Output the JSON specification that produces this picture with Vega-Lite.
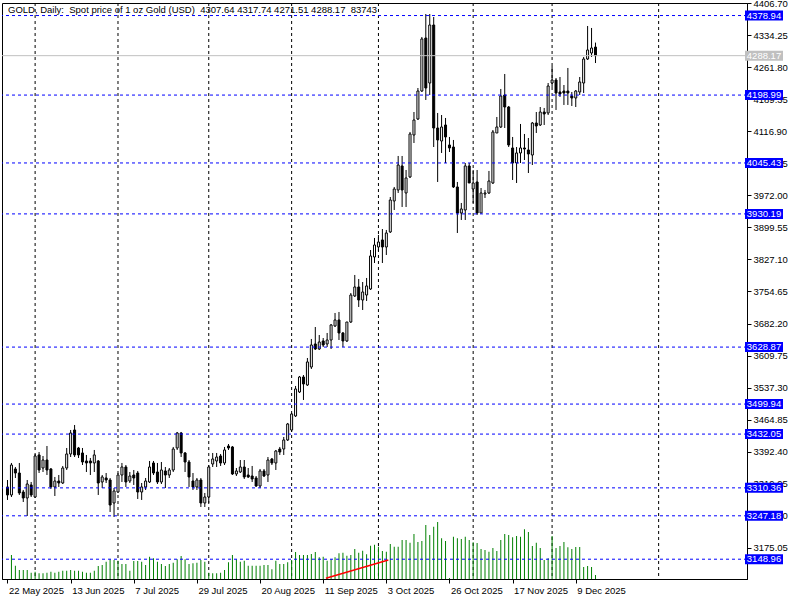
{
"$schema": "https://vega.github.io/schema/vega-lite/v6.json",
"width": 745, "height": 576,
"autosize": {"type": "none"},
"padding": {"left": 2, "top": 3, "right": 53, "bottom": 21},
"background": "#ffffff",
"config": {"view": {"stroke": "#000000", "strokeWidth": 1}, "font": "Liberation Sans"},
"datasets": {
"bars": [
{"d":"2025-05-22","i":-1,"o":3312.4,"h":3328.2,"l":3283.0,"c":3294.3},
{"d":"2025-05-23","i":0,"o":3294.3,"h":3366.7,"l":3289.7,"c":3362.1,"v":502464},
{"d":"2025-05-26","i":1,"o":3353.1,"h":3357.6,"l":3332.7,"c":3344.0,"v":278449},
{"d":"2025-05-27","i":2,"o":3344.0,"h":3366.7,"l":3294.3,"c":3298.8,"v":188424},
{"d":"2025-05-28","i":3,"o":3301.0,"h":3305.6,"l":3278.4,"c":3287.5,"v":188424},
{"d":"2025-05-29","i":4,"o":3287.5,"h":3328.2,"l":3246.8,"c":3319.1,"v":188424},
{"d":"2025-05-30","i":5,"o":3316.9,"h":3323.7,"l":3289.7,"c":3294.3,"v":131897},
{"d":"2025-06-02","i":6,"o":3289.7,"h":3387.0,"l":3287.5,"c":3382.5,"v":152833},
{"d":"2025-06-03","i":7,"o":3384.8,"h":3391.5,"l":3344.0,"c":3350.8,"v":119335},
{"d":"2025-06-04","i":8,"o":3355.3,"h":3382.5,"l":3346.3,"c":3373.4,"v":119335},
{"d":"2025-06-05","i":9,"o":3373.4,"h":3405.1,"l":3339.5,"c":3350.8,"v":131897},
{"d":"2025-06-06","i":10,"o":3353.1,"h":3355.3,"l":3307.8,"c":3312.4,"v":152833},
{"d":"2025-06-09","i":11,"o":3312.4,"h":3335.0,"l":3292.0,"c":3325.9,"v":131897},
{"d":"2025-06-10","i":12,"o":3325.9,"h":3339.5,"l":3312.4,"c":3321.4,"v":152833},
{"d":"2025-06-11","i":13,"o":3321.4,"h":3359.9,"l":3319.1,"c":3355.3,"v":173769},
{"d":"2025-06-12","i":14,"o":3355.3,"h":3400.6,"l":3350.8,"c":3387.0,"v":173769},
{"d":"2025-06-13","i":15,"o":3387.0,"h":3441.3,"l":3380.2,"c":3434.5,"v":188424},
{"d":"2025-06-16","i":16,"o":3441.3,"h":3452.6,"l":3380.2,"c":3384.8,"v":173769},
{"d":"2025-06-17","i":17,"o":3400.6,"h":3402.9,"l":3378.0,"c":3384.8,"v":173769},
{"d":"2025-06-18","i":18,"o":3389.3,"h":3400.6,"l":3362.1,"c":3368.9,"v":152833},
{"d":"2025-06-19","i":19,"o":3371.2,"h":3384.8,"l":3346.3,"c":3366.7,"v":131897},
{"d":"2025-06-20","i":20,"o":3371.2,"h":3378.0,"l":3339.5,"c":3366.7,"v":131897},
{"d":"2025-06-23","i":21,"o":3366.7,"h":3396.1,"l":3346.3,"c":3384.8,"v":173769},
{"d":"2025-06-24","i":22,"o":3371.2,"h":3373.4,"l":3294.3,"c":3321.4,"v":272168},
{"d":"2025-06-25","i":23,"o":3323.7,"h":3339.5,"l":3310.1,"c":3335.0,"v":293104},
{"d":"2025-06-26","i":24,"o":3332.7,"h":3344.0,"l":3321.4,"c":3328.2,"v":362193},
{"d":"2025-06-27","i":25,"o":3328.2,"h":3332.7,"l":3255.8,"c":3271.6,"v":412439},
{"d":"2025-06-30","i":26,"o":3276.2,"h":3310.1,"l":3244.5,"c":3303.3,"v":397784},
{"d":"2025-07-01","i":27,"o":3301.0,"h":3344.0,"l":3298.8,"c":3339.5,"v":383129},
{"d":"2025-07-02","i":28,"o":3339.5,"h":3366.7,"l":3323.7,"c":3357.6,"v":314040},
{"d":"2025-07-03","i":29,"o":3357.6,"h":3362.1,"l":3312.4,"c":3323.7,"v":314040},
{"d":"2025-07-04","i":30,"o":3325.9,"h":3346.3,"l":3321.4,"c":3337.2,"v":173769},
{"d":"2025-07-07","i":31,"o":3339.5,"h":3350.8,"l":3316.9,"c":3332.7,"v":376848},
{"d":"2025-07-08","i":32,"o":3344.0,"h":3348.6,"l":3285.2,"c":3301.0,"v":376848},
{"d":"2025-07-09","i":33,"o":3301.0,"h":3321.4,"l":3283.0,"c":3312.4,"v":362193},
{"d":"2025-07-10","i":34,"o":3312.4,"h":3332.7,"l":3305.6,"c":3325.9,"v":293104},
{"d":"2025-07-11","i":35,"o":3323.7,"h":3371.2,"l":3321.4,"c":3357.6,"v":466873},
{"d":"2025-07-14","i":36,"o":3366.7,"h":3371.2,"l":3339.5,"c":3344.0,"v":433375},
{"d":"2025-07-15","i":37,"o":3346.3,"h":3366.7,"l":3319.1,"c":3323.7,"v":362193},
{"d":"2025-07-16","i":38,"o":3323.7,"h":3368.9,"l":3319.1,"c":3350.8,"v":314040},
{"d":"2025-07-17","i":39,"o":3348.6,"h":3357.6,"l":3310.1,"c":3339.5,"v":272168},
{"d":"2025-07-18","i":40,"o":3339.5,"h":3355.3,"l":3332.7,"c":3350.8,"v":314040},
{"d":"2025-07-21","i":41,"o":3350.8,"h":3402.9,"l":3346.3,"c":3398.3,"v":341257},
{"d":"2025-07-22","i":42,"o":3400.6,"h":3436.8,"l":3396.1,"c":3434.5,"v":412439},
{"d":"2025-07-23","i":43,"o":3434.5,"h":3436.8,"l":3380.2,"c":3389.3,"v":481528},
{"d":"2025-07-24","i":44,"o":3389.3,"h":3391.5,"l":3346.3,"c":3368.9,"v":412439},
{"d":"2025-07-25","i":45,"o":3368.9,"h":3373.4,"l":3312.4,"c":3335.0,"v":314040},
{"d":"2025-07-28","i":46,"o":3325.9,"h":3344.0,"l":3305.6,"c":3312.4,"v":328695},
{"d":"2025-07-29","i":47,"o":3312.4,"h":3332.7,"l":3305.6,"c":3328.2,"v":341257},
{"d":"2025-07-30","i":48,"o":3328.2,"h":3332.7,"l":3267.1,"c":3276.2,"v":397784},
{"d":"2025-07-31","i":49,"o":3276.2,"h":3298.8,"l":3267.1,"c":3289.7,"v":362193},
{"d":"2025-08-01","i":50,"o":3289.7,"h":3362.1,"l":3276.2,"c":3357.6,"v":131897},
{"d":"2025-08-04","i":51,"o":3364.4,"h":3389.3,"l":3357.6,"c":3375.7,"v":119335},
{"d":"2025-08-05","i":52,"o":3371.2,"h":3389.3,"l":3357.6,"c":3380.2,"v":119335},
{"d":"2025-08-06","i":53,"o":3382.5,"h":3387.0,"l":3359.9,"c":3366.7,"v":131897},
{"d":"2025-08-07","i":54,"o":3366.7,"h":3402.9,"l":3362.1,"c":3396.1,"v":188424},
{"d":"2025-08-08","i":55,"o":3405.1,"h":3409.6,"l":3396.1,"c":3400.6,"v":349631},
{"d":"2025-08-11","i":56,"o":3402.9,"h":3405.1,"l":3339.5,"c":3341.8,"v":502464},
{"d":"2025-08-12","i":57,"o":3341.8,"h":3355.3,"l":3337.2,"c":3348.6,"v":412439},
{"d":"2025-08-13","i":58,"o":3346.3,"h":3373.4,"l":3344.0,"c":3357.6,"v":362193},
{"d":"2025-08-14","i":59,"o":3357.6,"h":3373.4,"l":3330.5,"c":3335.0,"v":383129},
{"d":"2025-08-15","i":60,"o":3339.5,"h":3355.3,"l":3332.7,"c":3335.0,"v":278449},
{"d":"2025-08-18","i":61,"o":3337.2,"h":3359.9,"l":3323.7,"c":3330.5,"v":278449},
{"d":"2025-08-19","i":62,"o":3332.7,"h":3337.2,"l":3312.4,"c":3314.6,"v":278449},
{"d":"2025-08-20","i":63,"o":3314.6,"h":3353.1,"l":3310.1,"c":3348.6,"v":278449},
{"d":"2025-08-21","i":64,"o":3348.6,"h":3353.1,"l":3335.0,"c":3337.2,"v":293104},
{"d":"2025-08-22","i":65,"o":3339.5,"h":3380.2,"l":3323.7,"c":3373.4,"v":293104},
{"d":"2025-08-25","i":66,"o":3375.7,"h":3378.0,"l":3362.1,"c":3366.7,"v":203079},
{"d":"2025-08-26","i":67,"o":3366.7,"h":3396.1,"l":3350.8,"c":3393.8,"v":383129},
{"d":"2025-08-27","i":68,"o":3398.3,"h":3402.9,"l":3384.8,"c":3391.5,"v":314040},
{"d":"2025-08-28","i":69,"o":3398.3,"h":3425.5,"l":3384.8,"c":3418.7,"v":314040},
{"d":"2025-08-29","i":70,"o":3418.7,"h":3457.2,"l":3416.4,"c":3454.9,"v":349631},
{"d":"2025-09-01","i":71,"o":3441.3,"h":3479.8,"l":3436.8,"c":3477.5,"v":397784},
{"d":"2025-09-02","i":72,"o":3473.0,"h":3540.9,"l":3470.7,"c":3534.1,"v":565272},
{"d":"2025-09-03","i":73,"o":3527.3,"h":3563.5,"l":3525.0,"c":3561.2,"v":502464},
{"d":"2025-09-04","i":74,"o":3561.2,"h":3565.7,"l":3509.2,"c":3545.4,"v":502464},
{"d":"2025-09-05","i":75,"o":3543.1,"h":3604.2,"l":3540.9,"c":3595.2,"v":502464},
{"d":"2025-09-08","i":76,"o":3583.8,"h":3647.2,"l":3579.3,"c":3633.6,"v":523400},
{"d":"2025-09-09","i":77,"o":3635.9,"h":3674.3,"l":3622.3,"c":3624.6,"v":565272},
{"d":"2025-09-10","i":78,"o":3624.6,"h":3656.2,"l":3622.3,"c":3640.4,"v":454311},
{"d":"2025-09-11","i":79,"o":3642.7,"h":3649.4,"l":3629.1,"c":3633.6,"v":466873},
{"d":"2025-09-12","i":80,"o":3635.9,"h":3660.8,"l":3629.1,"c":3644.9,"v":383129},
{"d":"2025-09-15","i":81,"o":3644.9,"h":3681.1,"l":3624.6,"c":3678.9,"v":412439},
{"d":"2025-09-16","i":82,"o":3676.6,"h":3706.0,"l":3674.3,"c":3690.2,"v":454311},
{"d":"2025-09-17","i":83,"o":3690.2,"h":3708.3,"l":3644.9,"c":3660.8,"v":538055},
{"d":"2025-09-18","i":84,"o":3660.8,"h":3663.0,"l":3629.1,"c":3642.7,"v":550617},
{"d":"2025-09-19","i":85,"o":3642.7,"h":3685.6,"l":3640.4,"c":3685.6,"v":487809},
{"d":"2025-09-22","i":86,"o":3685.6,"h":3751.2,"l":3683.4,"c":3746.7,"v":502464},
{"d":"2025-09-23","i":87,"o":3744.5,"h":3792.0,"l":3742.2,"c":3764.8,"v":628080},
{"d":"2025-09-24","i":88,"o":3764.8,"h":3782.9,"l":3719.6,"c":3735.4,"v":550617},
{"d":"2025-09-25","i":89,"o":3735.4,"h":3776.1,"l":3712.8,"c":3753.5,"v":592489},
{"d":"2025-09-26","i":90,"o":3746.7,"h":3785.2,"l":3733.2,"c":3767.1,"v":517119},
{"d":"2025-09-29","i":91,"o":3760.3,"h":3848.5,"l":3758.0,"c":3835.0,"v":697169},
{"d":"2025-09-30","i":92,"o":3832.7,"h":3875.7,"l":3819.1,"c":3859.8,"v":718105},
{"d":"2025-10-01","i":93,"o":3855.3,"h":3882.5,"l":3846.3,"c":3866.6,"v":676233},
{"d":"2025-10-02","i":94,"o":3871.2,"h":3896.0,"l":3819.1,"c":3855.3,"v":586208},
{"d":"2025-10-03","i":95,"o":3855.3,"h":3893.8,"l":3837.2,"c":3887.0,"v":571553},
{"d":"2025-10-06","i":96,"o":3889.3,"h":3968.4,"l":3887.0,"c":3961.6,"v":732760},
{"d":"2025-10-07","i":97,"o":3959.4,"h":3991.1,"l":3939.0,"c":3986.5,"v":676233},
{"d":"2025-10-08","i":98,"o":3984.3,"h":4061.2,"l":3977.5,"c":4040.8,"v":676233},
{"d":"2025-10-09","i":99,"o":4038.6,"h":4061.2,"l":3945.8,"c":3984.3,"v":816504},
{"d":"2025-10-10","i":100,"o":3977.5,"h":4029.5,"l":3945.8,"c":4011.4,"v":816504},
{"d":"2025-10-13","i":101,"o":4013.7,"h":4115.5,"l":4011.4,"c":4111.0,"v":759977},
{"d":"2025-10-14","i":102,"o":4108.7,"h":4160.7,"l":4090.6,"c":4142.6,"v":942120},
{"d":"2025-10-15","i":103,"o":4144.9,"h":4215.0,"l":4142.6,"c":4208.2,"v":774632},
{"d":"2025-10-16","i":104,"o":4208.2,"h":4330.4,"l":4206.0,"c":4325.9,"v":795568},
{"d":"2025-10-17","i":105,"o":4328.1,"h":4382.4,"l":4187.9,"c":4215.0,"v":1130544},
{"d":"2025-10-20","i":106,"o":4226.3,"h":4382.4,"l":4199.2,"c":4357.5,"v":921184},
{"d":"2025-10-21","i":107,"o":4357.5,"h":4375.6,"l":4081.5,"c":4124.5,"v":1094953},
{"d":"2025-10-22","i":108,"o":4124.5,"h":4158.5,"l":4002.4,"c":4097.4,"v":1193352},
{"d":"2025-10-23","i":109,"o":4095.1,"h":4153.9,"l":4068.0,"c":4126.8,"v":852095},
{"d":"2025-10-24","i":110,"o":4131.3,"h":4147.2,"l":4045.3,"c":4104.2,"v":795568},
{"d":"2025-10-26","i":111,"o":4086.1,"h":4104.2,"l":4070.2,"c":4079.3,"v":20936},
{"d":"2025-10-27","i":112,"o":4081.5,"h":4097.4,"l":3988.8,"c":3991.1,"v":885593},
{"d":"2025-10-28","i":113,"o":3991.1,"h":4002.4,"l":3887.0,"c":3932.2,"v":852095},
{"d":"2025-10-29","i":114,"o":3932.2,"h":3954.9,"l":3916.4,"c":3941.3,"v":837440},
{"d":"2025-10-30","i":115,"o":3939.0,"h":4045.3,"l":3916.4,"c":4038.6,"v":885593},
{"d":"2025-10-31","i":116,"o":4038.6,"h":4045.3,"l":4000.1,"c":4000.1,"v":816504},
{"d":"2025-11-03","i":117,"o":3986.5,"h":4029.5,"l":3954.9,"c":4000.1,"v":768351},
{"d":"2025-11-04","i":118,"o":4002.4,"h":4029.5,"l":3927.7,"c":3932.2,"v":753696},
{"d":"2025-11-05","i":119,"o":3932.2,"h":3988.8,"l":3932.2,"c":3977.5,"v":628080},
{"d":"2025-11-06","i":120,"o":3975.2,"h":3984.3,"l":3966.2,"c":3977.5,"v":607144},
{"d":"2025-11-07","i":121,"o":3977.5,"h":4027.3,"l":3975.2,"c":4004.6,"v":571553},
{"d":"2025-11-10","i":122,"o":4000.1,"h":4120.0,"l":3997.8,"c":4115.5,"v":649016},
{"d":"2025-11-11","i":123,"o":4113.2,"h":4149.4,"l":4113.2,"c":4126.8,"v":586208},
{"d":"2025-11-12","i":124,"o":4126.8,"h":4212.8,"l":4124.5,"c":4196.9,"v":816504},
{"d":"2025-11-13","i":125,"o":4199.2,"h":4246.7,"l":4124.5,"c":4172.0,"v":942120},
{"d":"2025-11-14","i":126,"o":4172.0,"h":4174.3,"l":4081.5,"c":4086.1,"v":921184},
{"d":"2025-11-17","i":127,"o":4079.3,"h":4104.2,"l":4006.9,"c":4045.3,"v":873031},
{"d":"2025-11-18","i":128,"o":4045.3,"h":4081.5,"l":4000.1,"c":4068.0,"v":900248},
{"d":"2025-11-19","i":129,"o":4068.0,"h":4133.6,"l":4045.3,"c":4079.3,"v":885593},
{"d":"2025-11-20","i":130,"o":4079.3,"h":4111.0,"l":4052.1,"c":4077.0,"v":1040519},
{"d":"2025-11-21","i":131,"o":4074.8,"h":4101.9,"l":4022.7,"c":4065.7,"v":983992},
{"d":"2025-11-24","i":132,"o":4063.4,"h":4138.1,"l":4040.8,"c":4135.8,"v":690888},
{"d":"2025-11-25","i":133,"o":4135.8,"h":4160.7,"l":4113.2,"c":4129.1,"v":759977},
{"d":"2025-11-26","i":134,"o":4131.3,"h":4172.0,"l":4129.1,"c":4160.7,"v":649016},
{"d":"2025-11-27","i":135,"o":4160.7,"h":4169.8,"l":4131.3,"c":4156.2,"v":397784},
{"d":"2025-11-28","i":136,"o":4158.5,"h":4226.3,"l":4153.9,"c":4219.5,"v":433375},
{"d":"2025-12-01","i":137,"o":4226.3,"h":4264.8,"l":4217.3,"c":4233.1,"v":900248},
{"d":"2025-12-02","i":138,"o":4233.1,"h":4237.6,"l":4165.3,"c":4203.7,"v":649016},
{"d":"2025-12-03","i":139,"o":4206.0,"h":4239.9,"l":4194.7,"c":4201.4,"v":690888},
{"d":"2025-12-04","i":140,"o":4208.2,"h":4221.8,"l":4176.6,"c":4203.7,"v":774632},
{"d":"2025-12-05","i":141,"o":4208.2,"h":4260.3,"l":4176.6,"c":4203.7,"v":663671},
{"d":"2025-12-08","i":142,"o":4196.9,"h":4206.0,"l":4174.3,"c":4192.4,"v":628080},
{"d":"2025-12-09","i":143,"o":4192.4,"h":4210.5,"l":4172.0,"c":4208.2,"v":669952},
{"d":"2025-12-10","i":144,"o":4206.0,"h":4239.9,"l":4199.2,"c":4228.6,"v":669952},
{"d":"2025-12-11","i":145,"o":4226.3,"h":4285.2,"l":4203.7,"c":4280.6,"v":251232},
{"d":"2025-12-12","i":146,"o":4280.6,"h":4355.3,"l":4278.4,"c":4301.0,"v":272168},
{"d":"2025-12-15","i":147,"o":4294.2,"h":4350.8,"l":4285.2,"c":4305.5,"v":251232},
{"d":"2025-12-16","i":148,"o":4307.64,"h":4317.74,"l":4271.51,"c":4288.17,"v":83743}
],
"grid": [{"m":"2025-06","i":6},{"m":"2025-07","i":27},{"m":"2025-08","i":50},{"m":"2025-09","i":71},{"m":"2025-10","i":93},{"m":"2025-11","i":117},{"m":"2025-12","i":137},{"m":"2026-01","i":164}],
"levels": [{"p":4378.94},{"p":4198.99},{"p":4045.43},{"p":3930.19},{"p":3628.87},{"p":3499.94},{"p":3432.05},{"p":3310.36},{"p":3247.18},{"p":3148.96}],
"bid": [{"p":4288.17}],
"trend": [{"i":79.7,"p":3105.8},{"i":95.5,"p":3147.2}],
"header": [{"t":"GOLD, Daily:\u00a0\u00a0Spot price of 1 oz Gold (USD)\u00a0\u00a04307.64 4317.74 4271.51 4288.17\u00a0\u00a083743"}]
},
"resolve": {"scale": {"y": "independent"}},
"layer": [
{"data": {"name": "grid"},
 "mark": {"type": "rule", "color": "#000000", "strokeDash": [3, 3], "strokeWidth": 1},
 "encoding": {"x": {"field": "i", "type": "quantitative",
   "scale": {"domain": [-1.125, 185.125], "nice": false, "zero": false},
   "axis": {"values": [-1, 15, 31, 47, 63, 79, 95, 111, 127, 143],
     "labelExpr": "['22 May 2025','13 Jun 2025','7 Jul 2025','29 Jul 2025','20 Aug 2025','11 Sep 2025','3 Oct 2025','26 Oct 2025','17 Nov 2025','9 Dec 2025'][round((datum.value+1)/16)]",
     "title": null, "grid": false, "tickSize": 4, "tickColor": "#000000", "tickWidth": 1,
     "domainColor": "#000000", "domainWidth": 1, "labelAlign": "left", "labelBaseline": "top",
     "labelPadding": 2, "labelOffset": 1, "labelFontSize": 9.5, "labelColor": "#000000",
     "labelFont": "Liberation Sans", "labelFlush": false, "labelOverlap": false}}}},
{"data": {"name": "bars"},
 "mark": {"type": "bar", "width": 1, "color": "#008000"},
 "encoding": {"x": {"field": "i", "type": "quantitative", "scale": {"domain": [-1.125, 185.125], "nice": false, "zero": false}},
   "y": {"field": "v", "type": "quantitative", "scale": {"domain": [0, 12059136], "nice": false, "zero": true}, "axis": null}}},
{"data": {"name": "bars"},
 "mark": {"type": "rule", "color": "#000000", "strokeWidth": 1},
 "encoding": {"x": {"field": "i", "type": "quantitative", "scale": {"domain": [-1.125, 185.125], "nice": false, "zero": false}},
   "y": {"field": "l", "type": "quantitative", "scale": {"domain": [3104.2, 4407.3], "nice": false, "zero": false},
     "axis": {"orient": "right", "values": [4406.7, 4334.25, 4261.8, 4189.35, 4116.9, 4044.45, 3972.0, 3899.55, 3827.1, 3754.65, 3682.2, 3609.75, 3537.3, 3464.85, 3392.4, 3319.95, 3247.5, 3175.05],
       "format": ".2f", "title": null, "grid": false, "tickSize": 4, "tickColor": "#000000", "tickWidth": 1,
       "domainColor": "#000000", "domainWidth": 1, "labelPadding": 2, "labelFontSize": 9.5, "labelColor": "#000000",
       "labelFont": "Liberation Sans", "labelOverlap": false, "labelFlush": false, "labelAlign": "left", "labelBaseline": "middle"}},
   "y2": {"field": "h"}}},
{"data": {"name": "bars"},
 "mark": {"type": "bar", "width": 2, "stroke": "#000000", "strokeWidth": 1},
 "encoding": {"x": {"field": "i", "type": "quantitative", "scale": {"domain": [-1.125, 185.125], "nice": false, "zero": false}},
   "y": {"field": "o", "type": "quantitative", "scale": {"domain": [3104.2, 4407.3], "nice": false, "zero": false}, "axis": null},
   "y2": {"field": "c"},
   "fill": {"condition": {"test": "datum.c >= datum.o", "value": "#ffffff"}, "value": "#000000"}}},
{"data": {"name": "levels"},
 "mark": {"type": "rule", "color": "#0000ff", "strokeDash": [3, 3], "strokeWidth": 1},
 "encoding": {"y": {"field": "p", "type": "quantitative", "scale": {"domain": [3104.2, 4407.3], "nice": false, "zero": false}, "axis": null}}},
{"data": {"name": "bid"},
 "mark": {"type": "rule", "color": "#c0c0c0", "strokeWidth": 1},
 "encoding": {"y": {"field": "p", "type": "quantitative", "scale": {"domain": [3104.2, 4407.3], "nice": false, "zero": false}, "axis": null}}},
{"data": {"name": "trend"},
 "mark": {"type": "line", "color": "#ff0000", "strokeWidth": 1.5},
 "encoding": {"x": {"field": "i", "type": "quantitative", "scale": {"domain": [-1.125, 185.125], "nice": false, "zero": false}},
   "y": {"field": "p", "type": "quantitative", "scale": {"domain": [3104.2, 4407.3], "nice": false, "zero": false}, "axis": null}}},
{"data": {"name": "levels"},
 "mark": {"type": "tick", "orient": "vertical", "thickness": 38, "size": 10, "color": "#0000ff", "opacity": 1},
 "encoding": {"x": {"datum": 190.7, "type": "quantitative", "scale": {"domain": [-1.125, 185.125], "nice": false, "zero": false}},
   "y": {"field": "p", "type": "quantitative", "scale": {"domain": [3104.2, 4407.3], "nice": false, "zero": false}, "axis": null}}},
{"data": {"name": "bid"},
 "mark": {"type": "tick", "orient": "vertical", "thickness": 38, "size": 10, "color": "#c0c0c0", "opacity": 1},
 "encoding": {"x": {"datum": 190.7, "type": "quantitative", "scale": {"domain": [-1.125, 185.125], "nice": false, "zero": false}},
   "y": {"field": "p", "type": "quantitative", "scale": {"domain": [3104.2, 4407.3], "nice": false, "zero": false}, "axis": null}}},
{"data": {"name": "levels"},
 "mark": {"type": "text", "color": "#ffffff", "fontSize": 9.5, "font": "Liberation Sans", "align": "center", "baseline": "middle"},
 "encoding": {"x": {"datum": 190.7, "type": "quantitative", "scale": {"domain": [-1.125, 185.125], "nice": false, "zero": false}},
   "y": {"field": "p", "type": "quantitative", "scale": {"domain": [3104.2, 4407.3], "nice": false, "zero": false}, "axis": null},
   "text": {"field": "p", "type": "quantitative", "format": ".2f"}}},
{"data": {"name": "bid"},
 "mark": {"type": "text", "color": "#ffffff", "fontSize": 9.5, "font": "Liberation Sans", "align": "center", "baseline": "middle"},
 "encoding": {"x": {"datum": 190.7, "type": "quantitative", "scale": {"domain": [-1.125, 185.125], "nice": false, "zero": false}},
   "y": {"field": "p", "type": "quantitative", "scale": {"domain": [3104.2, 4407.3], "nice": false, "zero": false}, "axis": null},
   "text": {"field": "p", "type": "quantitative", "format": ".2f"}}},
{"data": {"name": "header"},
 "mark": {"type": "text", "color": "#000000", "fontSize": 9.5, "font": "Liberation Sans", "align": "left", "baseline": "alphabetic"},
 "encoding": {"x": {"datum": -0.875, "type": "quantitative", "scale": {"domain": [-1.125, 185.125], "nice": false, "zero": false}},
   "y": {"datum": 4384.7, "type": "quantitative", "scale": {"domain": [3104.2, 4407.3], "nice": false, "zero": false}, "axis": null},
   "text": {"field": "t"}}}
]
}
